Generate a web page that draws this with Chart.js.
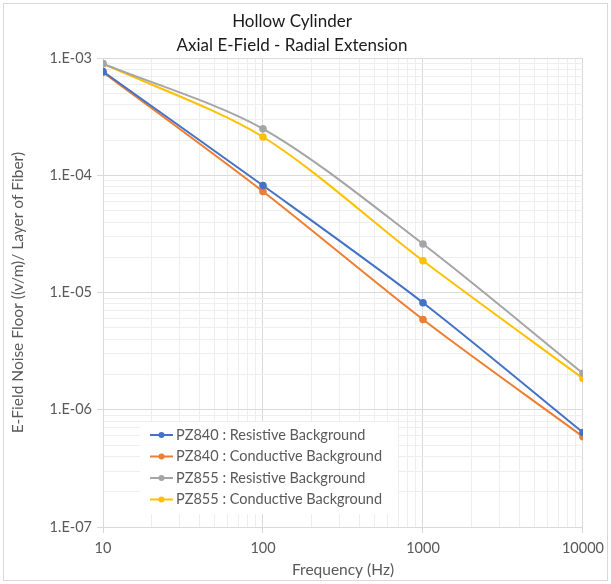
<!DOCTYPE html>
<html>
<head>
<meta charset="utf-8">
<script src="https://cdn.jsdelivr.net/npm/chart.js@4/dist/chart.umd.min.js"></script>
<style>
html,body{margin:0;padding:0;background:#fff;}
#wrap{width:611px;height:584px;position:relative;}
</style>
</head>
<body>
<div id="wrap"><canvas id="c" width="611" height="584"></canvas></div>
<script>
const frequencies = [10, 100, 1000, 10000];
const xTickLabels = ['10', '100', '1000', '10000'];
const yTickLabels = ['1.E-07', '1.E-06', '1.E-05', '1.E-04', '1.E-03'];
const seriesNames = [
  'PZ840 : Resistive Background',
  'PZ840 : Conductive Background',
  'PZ855 : Resistive Background',
  'PZ855 : Conductive Background'
];
const pz840Resistive = [7.7e-4, 8.2e-5, 8.2e-6, 6.4e-7];
const pz840Conductive = [7.6e-4, 7.3e-5, 5.9e-6, 5.9e-7];
const pz855Resistive = [9.0e-4, 2.5e-4, 2.6e-5, 2.05e-6];
const pz855Conductive = [9.0e-4, 2.13e-4, 1.87e-5, 1.85e-6];
const seriesColors = ['#4472C4', '#ED7D31', '#A5A5A5', '#FFC000'];

const FONT = 'Lato, "Open Sans", sans-serif';
const allSeries = [pz840Resistive, pz840Conductive, pz855Resistive, pz855Conductive];

function isPow10(v) {
  const l = Math.log10(v);
  return Math.abs(l - Math.round(l)) < 1e-9;
}
function logTicks(minExp, maxExp) {
  const t = [];
  for (let e = minExp; e < maxExp; e++) {
    for (let m = 1; m <= 9; m++) t.push({value: m * Math.pow(10, e)});
  }
  t.push({value: Math.pow(10, maxExp)});
  return t;
}
const majorGrid = '#d9d9d9';
const minorGrid = '#eeeeee';

const datasets = allSeries.map((d, i) => ({
  label: seriesNames[i],
  data: frequencies.map((f, j) => ({x: f, y: d[j]})),
  borderColor: seriesColors[i],
  backgroundColor: seriesColors[i],
  borderWidth: 2,
  pointRadius: 3.8,
  pointHoverRadius: 3.8,
  pointBorderWidth: 0,
  tension: 0.3
}));

const insideLegend = {
  id: 'insideLegend',
  afterDatasetsDraw(chart) {
    const ctx = chart.ctx;
    const ca = chart.chartArea;
    const bx = ca.left + 37, by = ca.bottom - 105, bw = 258, bh = 92;
    ctx.save();
    ctx.fillStyle = '#ffffff';
    ctx.fillRect(bx, by, bw, bh);
    ctx.font = '14.5px ' + FONT;
    ctx.textBaseline = 'middle';
    ctx.textAlign = 'left';
    for (let i = 0; i < seriesNames.length; i++) {
      const y = by + 13 + i * 21.5;
      ctx.strokeStyle = seriesColors[i];
      ctx.lineWidth = 2;
      ctx.beginPath();
      ctx.moveTo(bx + 10, y);
      ctx.lineTo(bx + 33, y);
      ctx.stroke();
      ctx.fillStyle = seriesColors[i];
      ctx.beginPath();
      ctx.arc(bx + 21.5, y, 3, 0, Math.PI * 2);
      ctx.fill();
      ctx.fillStyle = '#595959';
      ctx.fillText(seriesNames[i], bx + 36, y);
    }
    ctx.restore();
  }
};
const outerBorder = {
  id: 'outerBorder',
  afterDraw(chart) {
    const ctx = chart.ctx;
    ctx.save();
    ctx.strokeStyle = '#d9d9d9';
    ctx.lineWidth = 1;
    ctx.strokeRect(3.5, 3.5, 604, 577);
    ctx.restore();
  }
};

new Chart(document.getElementById('c'), {
  type: 'line',
  data: {datasets},
  plugins: [insideLegend, outerBorder],
  options: {
    responsive: false,
    animation: false,
    events: [],
    layout: {padding: {left: 0, right: 27, top: 9, bottom: 0}},
    plugins: {
      legend: {display: false},
      tooltip: {enabled: false},
      title: {
        display: true,
        text: ['Hollow Cylinder', 'Axial E-Field - Radial Extension'],
        color: '#1a1a1a',
        font: {family: FONT, size: 17, weight: 'normal', lineHeight: 1.42},
        padding: {top: 0, bottom: 1}
      }
    },
    scales: {
      x: {
        type: 'logarithmic',
        min: 10, max: 10000,
        afterBuildTicks(s) { s.ticks = logTicks(1, 4); },
        afterFit(s) { s.height = 57; },
        grid: {
          color: c => isPow10(c.tick.value) ? majorGrid : minorGrid,
          tickColor: c => isPow10(c.tick.value) ? majorGrid : 'rgba(0,0,0,0)',
          tickLength: 6,
          lineWidth: 1
        },
        border: {color: majorGrid},
        ticks: {
          autoSkip: false,
          maxRotation: 0,
          padding: 7,
          color: '#595959',
          font: {family: FONT, size: 14.5},
          callback(v) {
            if (!isPow10(v)) return '';
            return xTickLabels[Math.round(Math.log10(v)) - 1];
          }
        },
        title: {
          display: true,
          text: 'Frequency (Hz)',
          color: '#595959',
          font: {family: FONT, size: 15.5, lineHeight: 1.2},
          padding: {top: 0, bottom: 5}
        }
      },
      y: {
        type: 'logarithmic',
        min: 1e-7, max: 1e-3,
        afterBuildTicks(s) { s.ticks = logTicks(-7, -3); },
        afterFit(s) { s.width = 103; },
        grid: {
          color: c => isPow10(c.tick.value) ? majorGrid : minorGrid,
          tickColor: c => isPow10(c.tick.value) ? majorGrid : 'rgba(0,0,0,0)',
          tickLength: 6,
          lineWidth: 1
        },
        border: {color: majorGrid},
        ticks: {
          autoSkip: false,
          padding: 5,
          color: '#595959',
          font: {family: FONT, size: 14.5},
          callback(v) {
            if (!isPow10(v)) return '';
            return yTickLabels[Math.round(Math.log10(v)) + 7];
          }
        },
        title: {
          display: true,
          text: 'E-Field Noise Floor ((v/m)/ Layer of Fiber)',
          color: '#595959',
          font: {family: FONT, size: 15.5, lineHeight: 1.2},
          padding: {top: 9, bottom: 0}
        }
      }
    }
  }
});
</script>
</body>
</html>
